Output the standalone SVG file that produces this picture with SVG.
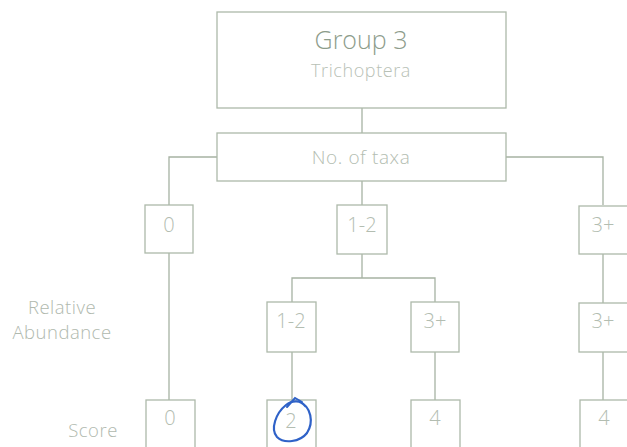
<svg xmlns="http://www.w3.org/2000/svg" width="627" height="447" viewBox="0 0 627 447">
  <style>
    .box { fill: #ffffff; stroke: #adb9aa; stroke-width: 1.3; }
    .wire { fill: none; stroke: #a6b2a3; stroke-width: 1.3; }
    .t { font-family: "Open Sans", "Liberation Sans", sans-serif; font-weight: 300; fill: #b3bdb1; text-anchor: middle; }
    .title { font-size: 25px; fill: #8d9c8b; }
    .sub { font-size: 18px; fill: #b8c1b6; letter-spacing: 0.6px; }
    .lbl { font-size: 19px; letter-spacing: 0.6px; }
    .num { font-size: 20px; }
    .side { font-size: 18.5px; fill: #b0b9ae; letter-spacing: 0.5px; }
  </style>
  <rect width="627" height="447" fill="#ffffff"/>

  <!-- connectors -->
  <g id="connectors">
    <line class="wire" x1="362" y1="108" x2="362" y2="133"/>
    <polyline class="wire" points="217,157 169,157 169,205"/>
    <polyline class="wire" points="506,157 603,157 603,205"/>
    <line class="wire" x1="362" y1="181" x2="362" y2="205"/>
    <line class="wire" x1="169" y1="253" x2="169" y2="400"/>
    <line class="wire" x1="362" y1="254" x2="362" y2="278"/>
    <polyline class="wire" points="292,302 292,278 435,278 435,302"/>
    <line class="wire" x1="292" y1="352" x2="292" y2="400"/>
    <line class="wire" x1="435" y1="352" x2="435" y2="400"/>
    <line class="wire" x1="603" y1="254" x2="603" y2="303"/>
    <line class="wire" x1="603" y1="352" x2="603" y2="400"/>
  </g>

  <g id="group3">
    <rect class="box" x="217" y="12" width="289" height="96"/>
    <text class="t title" x="361" y="49">Group 3</text>
    <text class="t sub" x="361" y="77">Trichoptera</text>
  </g>

  <g id="taxa">
    <rect class="box" x="217" y="133" width="289" height="48"/>
    <text class="t lbl" x="361" y="164">No. of taxa</text>
  </g>

  <g id="taxa-0">
    <rect class="box" x="145" y="205" width="48" height="48"/>
    <text class="t num" x="169" y="232">0</text>
  </g>
  <g id="taxa-1-2">
    <rect class="box" x="337" y="205" width="50" height="49"/>
    <text class="t num" x="362" y="232">1-2</text>
  </g>
  <g id="taxa-3plus">
    <rect class="box" x="579" y="206" width="49" height="48"/>
    <text class="t num" x="603" y="232">3+</text>
  </g>

  <g id="abund-1-2">
    <rect class="box" x="267" y="302" width="49" height="50"/>
    <text class="t num" x="291" y="328">1-2</text>
  </g>
  <g id="abund-3plus">
    <rect class="box" x="411" y="302" width="48" height="50"/>
    <text class="t num" x="435" y="328">3+</text>
  </g>
  <g id="abund-3plus-b">
    <rect class="box" x="579" y="303" width="49" height="49"/>
    <text class="t num" x="603" y="328">3+</text>
  </g>

  <g id="score-0">
    <rect class="box" x="146" y="400" width="49" height="50"/>
    <text class="t num" x="170" y="425">0</text>
  </g>
  <g id="score-2">
    <rect class="box" x="267" y="400" width="49" height="50"/>
    <text class="t num" x="291" y="428">2</text>
    <!-- hand-drawn ink circle -->
    <path d="M300,402 C311,407 314,422 307,433 C300,442 284,444 277,437 C270,429 276,413 286,405 C292,400 301,400 305,406" fill="none" stroke="#2f62c8" stroke-width="2.2" stroke-linecap="round"/>
    <path d="M287,407 L295,398 L302,402" fill="none" stroke="#2f62c8" stroke-width="2" stroke-linecap="round"/>
  </g>
  <g id="score-4">
    <rect class="box" x="411" y="400" width="49" height="50"/>
    <text class="t num" x="435" y="425">4</text>
  </g>
  <g id="score-4-b">
    <rect class="box" x="580" y="400" width="48" height="50"/>
    <text class="t num" x="604" y="425">4</text>
  </g>

  <g id="labels">
    <text class="t side" x="62" y="314">Relative</text>
    <text class="t side" x="62" y="339">Abundance</text>
    <text class="t side" x="93" y="437">Score</text>
  </g>
</svg>
